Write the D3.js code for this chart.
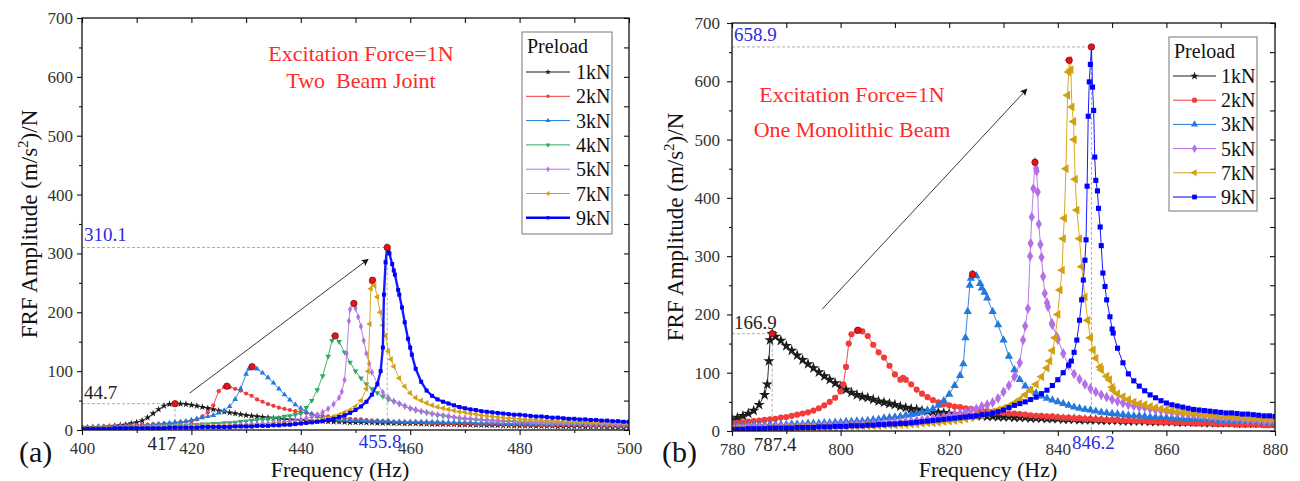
<!DOCTYPE html>
<html><head><meta charset="utf-8">
<script src="https://cdn.jsdelivr.net/npm/d3@7"></script>
<style>
body{margin:0;background:#fff;}
</style></head><body>
<svg id="chart" width="1300" height="481" font-family="'Liberation Serif', 'Times New Roman', Tinos, 'DejaVu Serif', serif"></svg>
<script>
// ---------- DATA ----------
const seriesNamesA = ["1kN","2kN","3kN","4kN","5kN","7kN","9kN"];
const seriesNamesB = ["1kN","2kN","3kN","5kN","7kN","9kN"];
const yTicks = [0,100,200,300,400,500,600,700];
const xTicksA = [400,420,440,460,480,500];
const xTicksB = [780,800,820,840,860,880];

const freqA = [400,401,402,403,404,405,406,407,408,409,410,411,412,413,414,415,416,417,418,419,
420,421,422,423,424,425,426,427,428,429,430,431,432,433,434,435,436,437,438,439,
440,441,442,443,444,445,446,447,448,449,450,451,452,453,454,455,456,457,458,459,
460,461,462,463,464,465,466,467,468,469,470,471,472,473,474,475,476,477,478,479,
480,481,482,483,484,485,486,487,488,489,490,491,492,493,494,495,496,497,498,499,500];
const freqB = [780,781,782,783,784,785,786,787,788,789,790,791,792,793,794,795,796,797,798,799,
800,801,802,803,804,805,806,807,808,809,810,811,812,813,814,815,816,817,818,819,
820,821,822,823,824,825,826,827,828,829,830,831,832,833,834,835,836,837,838,839,
840,841,842,843,844,845,846,847,848,849,850,851,852,853,854,855,856,857,858,859,
860,861,862,863,864,865,866,867,868,869,870,871,872,873,874,875,876,877,878,879,880];

// Panel (a) Two Beam Joint
const a1kN = [4,4,5,5,5,6,7,8,9,11, 13,16,21,28,35,41,44,44.7,44.5,44, 42.5,41,39,37,35,33,31,29.5,28,26.5,
25,24,23,22,21,20,19,18,17.5,17, 16.5,16,15.5,15,15,14.5,14,14,13.5,13, 13,13,12.5,12.5,12,12,12,11.5,11.5,11,
11,11,10.5,10.5,10,10,10,9.5,9.5,9, 9,9,8.5,8.5,8,8,8,7.5,7.5,7, 7,7,7,6.5,6.5,6.5,6.5,6,6,6, 6,6,5.5,5.5,5.5,5.5,5,5,5,5,5];
const a1kNDetail = [];
const a2kN = [5,5,5,6,6,6,7,7,7,8, 8,9,9,10,10,11,11,12,13,14, 15,18,23,30,42,66,73,73,70,67,
62,58,52,48,44,41,38,36,34,32, 31,29,27,25,24,23,22,21,20,19, 18,18,17,16,16,15,15,14,14,13,
13,13,13,12,12,12,12,11,11,11, 11,11,10,10,10,10,10,9,9,9, 9,9,9,9,8,8,8,8,8,8, 8,8,8,7,7,7,7,7,7,7,7];
const a2kNDetail = [[426.5,74.5]];
const a3kN = [4,4,4,5,5,5,5,6,6,6, 7,7,8,9,10,11,12,13,14,15, 17,19,21,23,25,29,33,40,52,70,
95,107,104,97,89,80,70,60,51,43, 37,31,27,23,21,19,18,17,17,16, 16,16,15,15,15,15,15,14,14,14,
14,14,14,14,14,14,13,13,13,13, 13,13,12,12,12,12,12,11,11,11, 11,11,11,10,10,10,10,10,10,10, 10,10,9,9,9,9,9,9,9,9,9];
const a3kNDetail = [[430.5,104],[431.1,107.5]];
const a4kN = [3,3,3,3,4,4,4,4,5,5, 5,5,6,6,6,7,7,7,8,8, 9,9,10,10,11,11,12,12,13,14,
15,16,17,18,19,20,21,23,24,26, 28,38,50,68,92,125,158,150,132,115, 100,88,78,70,63,57,52,48,44,40,
36,33,31,29,27,25,24,22,21,19, 18,18,17,16,16,15,15,14,14,14, 13,13,13,12,12,12,12,11,11,11, 11,11,11,10,10,10,10,10,10,10,10];
const a4kNDetail = [[445.7,152],[446.3,160]];
const a5kN = [3,3,3,3,3,3,4,4,4,4, 4,4,5,5,5,5,5,6,6,6, 6,7,7,7,7,8,8,8,9,9,
9,10,10,11,11,12,13,14,15,16, 18,20,22,26,30,36,44,55,85,205, 207,176,130,98,79,64,55,49,45,41,
37,35,32,30,28,26,25,24,22,21, 20,19,18,18,17,16,16,15,15,14, 14,14,13,13,13,12,12,12,12,11, 11,11,11,10,10,10,10,10,9,9,9];
const a5kNDetail = [[447.5,65],[448.4,130],[448.8,185],[449.7,215],[450.5,192],[451.5,152],[452.5,113]];
const a7kN = [3,3,3,3,3,3,3,3,3,4, 4,4,4,4,4,4,4,5,5,5, 5,5,5,6,6,6,6,6,7,7,
7,7,8,8,8,9,9,10,10,11, 12,13,14,16,18,20,23,26,30,34, 40,50,70,250,226,178,134,108,88,74,
63,55,50,46,42,39,37,35,33,31, 30,28,27,25,24,23,22,21,20,20, 19,18,18,17,17,16,16,15,15,15, 14,14,14,13,13,13,13,12,12,12,12];
const a7kNDetail = [[452.3,100],[452.6,180],[452.8,240],[453.1,254.6],[453.5,245],[454.5,200],[455.5,160],[456.5,120]];
const a9kN = [2,2,2,2,2,2,3,3,3,3, 3,3,3,3,3,3,4,4,4,4, 4,4,5,5,5,5,5,5,6,6,
6,6,7,7,7,8,8,9,9,10, 11,12,13,14,15,17,19,22,25,29, 34,40,48,60,78,140,306,271,230,183,
140,104,82,67,58,52,48,45,42,39, 37,35,34,32,31,30,29,28,27,26, 26,25,24,23,23,22,21,21,20,19, 19,18,18,17,17,16,16,15,15,14,14];
const a9kNDetail = [[454.6,100],[455.2,230],[455.5,285],[455.8,310.1],[456.2,300],[456.7,282],[457.2,264],[457.8,238],[458.5,208],[459.6,155],[460.3,128]];

// Panel (b) One Monolithic Beam
const b1kN = [20,23,26,30,35,45,62,156,162,155, 146,138,130,122,115,108,101,94,88,82, 76,71,66,62,59,57,54,51,49,47,
45,42,40,38,37,35,34,33,32,31, 30,29,28,27,27,26,26,25,25,24, 24,24,23,23,23,22,22,22,21,21,
21,20,20,20,19,19,19,19,18,18, 18,18,17,17,17,17,17,16,16,16, 16,16,15,15,15,15,15,14,14,14, 14,14,14,13,13,13,13,13,13,13,13];
const b1kNDetail = [[786.5,80],[786.8,120],[787.4,166.9]];
const b2kN = [13,14,15,16,17,18,19,20,21,23, 24,26,28,30,32,35,39,44,50,57, 68,110,166,172,171,163,148,135,126,112,
97,88,88,80,71,64,58,53,49,46, 44,42,41,39,38,36,35,34,33,32, 31,30,30,29,28,27,26,26,25,25,
24,23,23,22,22,21,21,20,20,19, 19,19,18,18,17,17,17,16,16,15, 15,15,14,14,14,13,13,13,13,12, 12,12,12,11,11,11,11,11,10,10,10];
const b2kNDetail = [[800.5,80],[801.5,150],[803.2,173],[811.5,91]];
const b3kN = [9,9,9,10,10,10,10,11,11,11, 11,12,12,12,13,13,13,14,14,15, 15,16,16,17,17,18,19,20,22,23,
24,25,27,28,30,32,35,38,44,52, 63,78,95,160,262,266,245,228,205,182, 156,128,105,88,77,70,65,60,56,53,
50,47,44,41,39,37,36,34,32,31, 30,29,28,27,26,26,25,24,24,23, 23,22,22,21,21,21,20,20,19,19, 18,18,18,17,17,16,16,16,15,15,15];
const b3kNDetail = [[822.6,115],[823.4,205],[823.8,250],[824.3,269],[825.7,253],[826.5,238]];
const b5kN = [5,5,5,6,6,6,6,6,7,7, 7,7,7,8,8,8,8,9,9,9, 10,10,10,11,11,12,12,13,13,14,
15,15,16,17,18,19,20,21,23,24, 26,28,30,32,35,38,42,45,49,56, 67,78,93,117,180,322,451,298,220,182,
157,133,113,98,89,80,73,67,62,58, 54,51,48,45,43,41,40,38,36,35, 34,32,31,30,29,28,27,26,25,24, 23,22,22,21,20,19,19,18,17,17,16];
const b5kNDetail = [[833.6,156],[834.5,210],[834.9,300],[835.2,367],[835.5,416],[835.8,461],[836.1,446],[836.3,410],[836.5,355],[836.8,320],[837.3,265],[837.6,236],[838.2,213],[838.9,185],[839.8,162]];
const b7kN = [4,4,4,4,4,4,5,5,5,5, 5,5,6,6,6,6,6,7,7,7, 7,8,8,8,9,9,9,9,10,10,
10,11,11,12,12,13,14,14,15,16, 17,18,19,21,23,25,27,30,33,36, 39,43,48,54,62,70,80,93,108,138,
200,330,616,500,330,230,160,125,105,94, 75,64,59,54,50,47,45,42,40,38, 36,35,33,32,31,30,29,28,27,27, 26,25,24,24,23,22,22,21,20,20,19];
const b7kNDetail = [[838.5,120],[839.5,160],[840.4,242],[840.8,276],[841.2,365],[841.5,450],[841.8,576],[842.1,636],[842.4,620],[842.6,556],[842.9,531],[843.2,432],[843.5,379],[844.4,282],[845.5,190],[846.5,139],[847.8,110],[849.5,88],[850.2,70]];
const b9kN = [3,3,3,4,4,4,4,5,5,5, 5,5,6,6,6,6,7,7,7,8, 8,8,9,9,9,10,10,11,11,12,
12,13,13,14,15,16,17,18,19,20, 21,22,23,24,25,26,28,29,31,33, 36,40,44,47,50,54,58,64,70,78,
88,100,113,135,190,293,629,430,318,225, 175,142,117,98,86,77,69,62,57,52, 48,45,43,41,39,37,36,35,34,33, 32,31,31,30,29,29,28,27,26,26,25];
const b9kNDetail = [[842.5,120],[843.5,156],[844.4,225],[844.7,259],[845.2,328],[845.4,420],[845.6,540],[845.8,599],[846.2,658.9],[846.4,590],[846.6,550],[846.8,470],[847.3,412],[847.5,382],[847.8,350],[848.3,271],[848.7,248],[849.6,196],[850.2,168]];

// Peak points (red dots)
const peakFreqA = [417,426.5,431.1,446.3,449.7,453.1,455.8];
const peakAmpA  = [44.7,74.5,107.5,160,215,254.6,310.1];
const peakFreqB = [787.4,803.2,824.3,835.8,842.1,846.2];
const peakAmpB  = [166.9,173,269,461,636,658.9];

// Annotated resonance (frequency, amplitude) pairs
const annotA = [{f:417, v:44.7, fLabel:"417", vLabel:"44.7", color:"#222"},
                {f:455.8, v:310.1, fLabel:"455.8", vLabel:"310.1", color:"#2a2ae8"}];
const annotB = [{f:787.4, v:166.9, fLabel:"787.4", vLabel:"166.9", color:"#222"},
                {f:846.2, v:658.9, fLabel:"846.2", vLabel:"658.9", color:"#2a2ae8"}];
const arrowA = [[419.7,62.8],[452.3,290]];
const arrowB = [[796.6,209],[834.3,586.6]];

const titleA = ["Excitation Force=1N","Two  Beam Joint"];
const titleB = ["Excitation Force=1N","One Monolithic Beam"];

// ---------- STYLE ----------
const FONT = "'Liberation Serif', 'Times New Roman', Tinos, 'DejaVu Serif', serif";
const colors = {"1kN":"#1c1c1c","2kN":"#f23c3c","3kN":"#2479dc","4kN":"#2ea862","5kN":"#b56fe6","7kN":"#d3a012","9kN":"#0000ff"};
function symbolFor(name){
  switch(name){
    case "1kN": return {type:d3.symbolStar, rot:0};
    case "2kN": return {type:d3.symbolCircle, rot:0};
    case "3kN": return {type:d3.symbolTriangle, rot:0};
    case "4kN": return {type:d3.symbolTriangle, rot:180};
    case "5kN": return {type:d3.symbolDiamond, rot:0};
    case "7kN": return {type:d3.symbolTriangle, rot:-90};
    default: return {type:d3.symbolSquare, rot:0};
  }
}
const svg = d3.select("#chart");
const defs = svg.append("defs");
defs.append("marker").attr("id","arrowhead").attr("viewBox","0 0 10 10").attr("refX",9).attr("refY",5)
  .attr("markerWidth",9).attr("markerHeight",7).attr("markerUnits","userSpaceOnUse").attr("orient","auto")
  .append("path").attr("d","M0,0 L10,5 L0,10 L2,5 Z").attr("fill","#111");

const panels = [
  {id:"A", left:82, right:629, top:18, bottom:430, xDomain:[400,500], xTicks:xTicksA, freq:freqA,
   names:seriesNamesA,
   values:{"1kN":a1kN,"2kN":a2kN,"3kN":a3kN,"4kN":a4kN,"5kN":a5kN,"7kN":a7kN,"9kN":a9kN},
   detail:{"1kN":a1kNDetail,"2kN":a2kNDetail,"3kN":a3kNDetail,"4kN":a4kNDetail,"5kN":a5kNDetail,"7kN":a7kNDetail,"9kN":a9kNDetail},
   msize:{"1kN":16,"2kN":14,"3kN":14,"4kN":14,"5kN":15,"7kN":16,"9kN":16},
   lw:{"9kN":2.4}, peaksF:peakFreqA, peaksV:peakAmpA, annot:annotA, arrow:arrowA,
   title:titleA, titleX:361, titleY:[61,88], titleSize:22,
   letter:"(a)", letterX:19, yTitleX:37, xTitleX:340, yLabelDx:-9,
   legend:{x:522,y:32,w:90,h:202,titleY:53,firstY:72,step:24.3,lineX1:526,lineX2:570,textX:576,msize:10},
   fLabelX:[1,-7], fAnchor:["end","middle"], fLabelY:[450,448]},
  {id:"B", left:732, right:1275, top:23, bottom:431, xDomain:[780,880], xTicks:xTicksB, freq:freqB,
   names:seriesNamesB,
   values:{"1kN":b1kN,"2kN":b2kN,"3kN":b3kN,"5kN":b5kN,"7kN":b7kN,"9kN":b9kN},
   detail:{"1kN":b1kNDetail,"2kN":b2kNDetail,"3kN":b3kNDetail,"5kN":b5kNDetail,"7kN":b7kNDetail,"9kN":b9kNDetail},
   msize:{"1kN":40,"2kN":30,"3kN":30,"5kN":34,"7kN":34,"9kN":26},
   lw:{}, peaksF:peakFreqB, peaksV:peakAmpB, annot:annotB, arrow:arrowB,
   title:titleB, titleX:852, titleY:[102,137], titleSize:22,
   letter:"(b)", letterX:662, yTitleX:683, xTitleX:988, yLabelDx:-12,
   legend:{x:1169,y:37,w:88,h:174,titleY:58,firstY:76,step:24.2,lineX1:1173,lineX2:1216,textX:1221,msize:22},
   fLabelX:[3,2], fAnchor:["middle","middle"], fLabelY:[451,449]}
];

panels.forEach(p => {
  const x = d3.scaleLinear().domain(p.xDomain).range([p.left,p.right]);
  const y = d3.scaleLinear().domain([0,700]).range([p.bottom,p.top]);
  const g = svg.append("g");
  defs.append("clipPath").attr("id","clip"+p.id).append("rect")
    .attr("x",p.left).attr("y",p.top).attr("width",p.right-p.left).attr("height",p.bottom-p.top);

  // dashed guides
  p.annot.forEach(a => {
    g.append("line").attr("x1",x(p.xDomain[0])).attr("x2",x(a.f)).attr("y1",y(a.v)).attr("y2",y(a.v))
      .attr("stroke","#999").attr("stroke-width",0.8).attr("stroke-dasharray","3,2");
    g.append("line").attr("x1",x(a.f)).attr("x2",x(a.f)).attr("y1",y(a.v)).attr("y2",y(0))
      .attr("stroke","#999").attr("stroke-width",0.8).attr("stroke-dasharray","3,2");
  });

  // series
  const plot = g.append("g").attr("clip-path",`url(#clip${p.id})`);
  const line = d3.line().x(d=>x(d[0])).y(d=>y(d[1]));
  p.names.forEach(name => {
    const pts = p.freq.map((f,i)=>[f,p.values[name][i]]).concat(p.detail[name]).sort((a,b)=>a[0]-b[0]);
    plot.append("path").datum(pts).attr("d",line).attr("fill","none")
      .attr("stroke",colors[name]).attr("stroke-width",p.lw[name]||1).attr("stroke-opacity",0.9);
    const sym = symbolFor(name);
    plot.append("g").selectAll("path").data(pts).join("path")
      .attr("d",d3.symbol(sym.type,p.msize[name]))
      .attr("transform",d=>`translate(${x(d[0])},${y(d[1])}) rotate(${sym.rot})`)
      .attr("fill",colors[name]);
  });
  // peak dots
  plot.append("g").selectAll("circle").data(p.peaksF).join("circle")
    .attr("cx",d=>x(d)).attr("cy",(d,i)=>y(p.peaksV[i])).attr("r",3.2)
    .attr("fill","#e3141a").attr("stroke","#7a0a0a").attr("stroke-width",0.7);

  // arrow
  g.append("line").attr("x1",x(p.arrow[0][0])).attr("y1",y(p.arrow[0][1]))
    .attr("x2",x(p.arrow[1][0])).attr("y2",y(p.arrow[1][1]))
    .attr("stroke","#222").attr("stroke-width",0.9).attr("marker-end","url(#arrowhead)");

  // axes
  const styleAxis = sel => { sel.select(".domain").remove(); sel.attr("font-family",FONT).attr("font-size",17);
    sel.selectAll("line").attr("stroke","#111").attr("stroke-width",1.1); };
  const bx = g.append("g").attr("transform",`translate(0,${p.bottom})`)
    .call(d3.axisBottom(x).tickValues(p.xTicks).tickSize(5).tickFormat(d3.format("d")));
  styleAxis(bx);
  bx.selectAll("text").attr("y",24).attr("dy",0).attr("fill","#333");
  const bxm = g.append("g").attr("transform",`translate(0,${p.bottom})`)
    .call(d3.axisBottom(x).tickValues(p.xTicks.slice(0,-1).map((t,i)=>(t+p.xTicks[i+1])/2)).tickSize(3).tickFormat(""));
  styleAxis(bxm);
  const tx = g.append("g").attr("transform",`translate(0,${p.top})`)
    .call(d3.axisTop(x).ticks(10).tickSize(-5).tickFormat(""));
  styleAxis(tx);
  const ly = g.append("g").attr("transform",`translate(${p.left},0)`)
    .call(d3.axisLeft(y).tickValues(yTicks).tickSize(5).tickFormat(d3.format("d")));
  styleAxis(ly);
  ly.selectAll("text").attr("x",p.yLabelDx).attr("fill","#333");
  const lym = g.append("g").attr("transform",`translate(${p.left},0)`)
    .call(d3.axisLeft(y).tickValues(yTicks.slice(0,-1).map(t=>t+50)).tickSize(3).tickFormat(""));
  styleAxis(lym);
  const ry = g.append("g").attr("transform",`translate(${p.right},0)`)
    .call(d3.axisRight(y).ticks(10).tickSize(-5).tickFormat(""));
  styleAxis(ry);
  g.append("rect").attr("x",p.left).attr("y",p.top).attr("width",p.right-p.left).attr("height",p.bottom-p.top)
    .attr("fill","none").attr("stroke","#111").attr("stroke-width",1.3);

  // annotations
  p.annot.forEach((a,i) => {
    g.append("text").attr("x",p.left+2).attr("y",y(a.v)-(i===0?5:6)).attr("font-size",19)
      .attr("font-family",FONT).attr("fill",a.color).text(a.vLabel);
    g.append("text").attr("x",x(a.f)+p.fLabelX[i]).attr("y",p.fLabelY[i])
      .attr("font-size",19).attr("font-family",FONT).attr("text-anchor",p.fAnchor[i]).attr("fill",a.color).text(a.fLabel);
  });

  // red titles
  p.title.forEach((t,i) => {
    g.append("text").attr("x",p.titleX).attr("y",p.titleY[i]).attr("text-anchor","middle")
      .attr("font-size",p.titleSize).attr("font-family",FONT).attr("fill","#ff2a2a").style("white-space","pre").text(t);
  });

  // axis titles
  g.append("text").attr("x",p.xTitleX).attr("y",477).attr("text-anchor","middle").attr("font-size",22)
    .attr("font-family",FONT).attr("fill","#111").text("Frequency (Hz)");
  const yt = g.append("text").attr("transform",`translate(${p.yTitleX},${(p.top+p.bottom)/2}) rotate(-90)`)
    .attr("text-anchor","middle").attr("font-size",23).attr("font-family",FONT).attr("fill","#111");
  yt.append("tspan").text("FRF Amplitude (m/s");
  yt.append("tspan").attr("dy",-9).attr("font-size",15).text("2");
  yt.append("tspan").attr("dy",9).text(")/N");

  g.append("text").attr("x",p.letterX).attr("y",462).attr("font-size",30).attr("font-family",FONT)
    .attr("fill","#111").text(p.letter);

  // legend
  const L = p.legend;
  const lg = g.append("g");
  lg.append("rect").attr("x",L.x).attr("y",L.y).attr("width",L.w).attr("height",L.h)
    .attr("fill","#fff").attr("stroke","#777").attr("stroke-width",1);
  lg.append("text").attr("x",L.x+5).attr("y",L.titleY).attr("font-size",20).attr("font-family",FONT)
    .attr("fill","#111").text("Preload");
  p.names.forEach((name,i) => {
    const yy = L.firstY + i*L.step;
    lg.append("line").attr("x1",L.lineX1).attr("x2",L.lineX2).attr("y1",yy).attr("y2",yy)
      .attr("stroke",colors[name]).attr("stroke-width",(p.id==="A"&&name==="9kN")?2.4:1);
    const sym = symbolFor(name);
    lg.append("path").attr("d",d3.symbol(sym.type,L.msize))
      .attr("transform",`translate(${(L.lineX1+L.lineX2)/2},${yy}) rotate(${sym.rot})`).attr("fill",colors[name]);
    lg.append("text").attr("x",L.textX).attr("y",yy+7).attr("font-size",20).attr("font-family",FONT)
      .attr("fill","#111").text(name);
  });
});
</script>
</body></html>
